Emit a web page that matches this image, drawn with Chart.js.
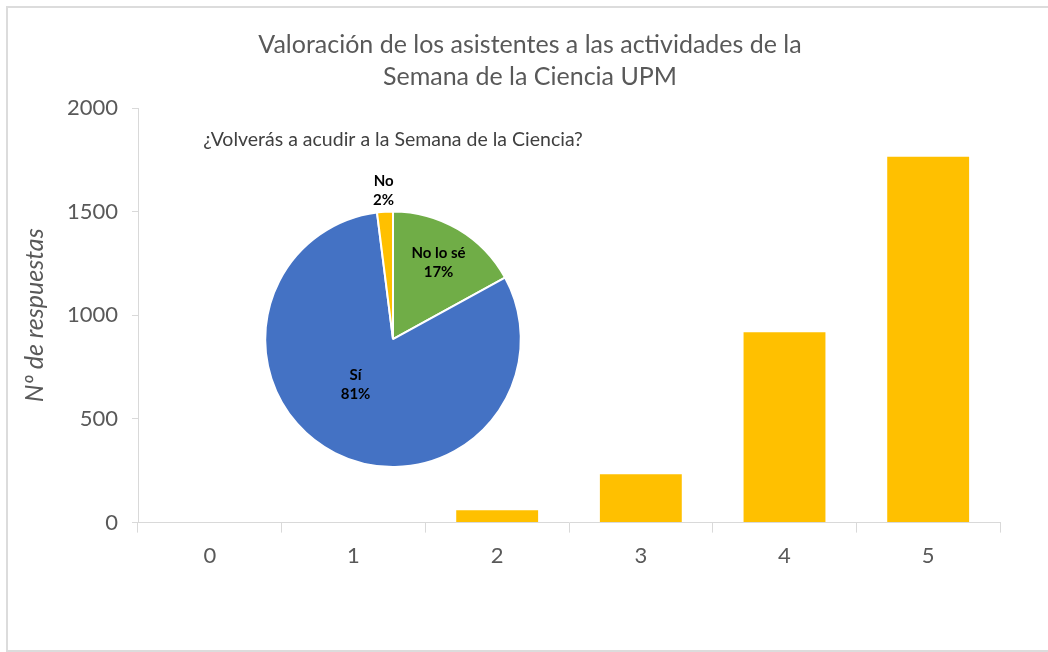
<!DOCTYPE html>
<html>
<head>
<meta charset="utf-8">
<script src="https://cdn.jsdelivr.net/npm/chart.js@4.4.1/dist/chart.umd.min.js"></script>
<style>
    html, body { margin: 0; padding: 0; background: #fff; overflow: hidden; }
    #frame { position: absolute; left: 6px; top: 6px; width: 1100px; height: 642px; border: 2px solid #dcdcdc; }
    #bars { position: absolute; left: 0; top: 0; }
    #pie { position: absolute; left: 180px; top: 128px; }
</style>
</head>
<body>
<div id="frame"></div>
<canvas id="bars" width="1060" height="652"></canvas>
<canvas id="pie" width="426" height="346"></canvas>
<script>
'use strict';

// bar data: ratings 0-5
const ratingLabels = ['0', '1', '2', '3', '4', '5'];
const ratingCounts = [0, 0, 60, 233, 918, 1765];

// pie data: ¿Volverás a acudir?
const pieLabels = ['No lo sé', 'Sí', 'No'];
const pieValues = [17, 81, 2];
const pieColors = ['#70AD47', '#4472C4', '#FFC000'];

const gray = '#595959';
const lineGray = '#d9d9d9';

// where each pie label sits: share of the radius, and a small turn (rad)
const labelRadius = [0.70, 0.46, 1.17];
const labelTurn = [0, 0.22, 0];

const pieLabelPlugin = {
    id: 'pieLabels',
    afterDatasetsDraw(chart) {
        const ctx = chart.ctx;
        const meta = chart.getDatasetMeta(0);
        const total = pieValues.reduce((a, b) => a + b, 0);
        ctx.save();
        ctx.font = 'bold 15px Lato';
        ctx.fillStyle = '#000';
        ctx.textAlign = 'center';
        ctx.textBaseline = 'middle';
        meta.data.forEach((arc, i) => {
            const p = arc.getProps(['x', 'y', 'startAngle', 'endAngle', 'outerRadius'], true);
            const mid = (p.startAngle + p.endAngle) / 2 + labelTurn[i];
            const r = p.outerRadius * labelRadius[i];
            const x = p.x + Math.cos(mid) * r;
            const y = p.y + Math.sin(mid) * r;
            ctx.fillText(pieLabels[i], x, y - 9);
            ctx.fillText(Math.round(pieValues[i] / total * 100) + '%', x, y + 10);
        });
        ctx.restore();
    }
};

const tickFont = { family: 'Lato', size: 22 };

new Chart(document.getElementById('bars'), {
    type: 'bar',
    data: {
        labels: ratingLabels,
        datasets: [{
            data: ratingCounts,
            backgroundColor: '#FFC000',
            barPercentage: 0.57,
            categoryPercentage: 1
        }]
    },
    options: {
        responsive: false,
        animation: false,
        layout: {
            padding: { left: 7, right: 7, top: 29, bottom: 73 }
        },
        plugins: {
            legend: { display: false },
            tooltip: { enabled: false },
            title: {
                display: true,
                text: ['Valoración de los asistentes a las actividades de la', 'Semana de la Ciencia UPM'],
                font: { family: 'Lato', size: 25, weight: 'normal', lineHeight: 1.28 },
                color: gray,
                padding: { top: 0, bottom: 15 }
            }
        },
        scales: {
            x: {
                grid: { drawOnChartArea: false, tickLength: 10, color: lineGray, offset: true },
                border: { color: lineGray },
                ticks: { font: tickFont, color: gray, padding: 10 }
            },
            y: {
                min: 0,
                max: 2000,
                ticks: {
                    stepSize: 500,
                    font: tickFont,
                    color: gray,
                    padding: 14,
                    callback: (value) => String(value)
                },
                grid: { drawOnChartArea: false, tickLength: 6, color: lineGray },
                border: { color: lineGray },
                title: {
                    display: true,
                    text: 'Nº de respuestas',
                    font: { family: 'Lato', size: 25, style: 'italic' },
                    color: gray,
                    padding: { top: 13, bottom: 0 }
                },
                afterFit(scale) { scale.width = 131; }
            },
            // empty right box, keeps the plot area where the original has it
            spacer: {
                axis: 'y',
                type: 'linear',
                position: 'right',
                grid: { display: false },
                border: { display: false },
                ticks: { display: false },
                afterFit(scale) { scale.width = 53; }
            }
        }
    }
});

new Chart(document.getElementById('pie'), {
    type: 'pie',
    data: {
        labels: pieLabels,
        datasets: [{
            data: pieValues,
            backgroundColor: pieColors,
            borderColor: '#fff',
            borderWidth: 2
        }]
    },
    options: {
        responsive: false,
        animation: false,
        layout: {
            padding: { left: 0, right: 0, top: 0, bottom: 6 }
        },
        plugins: {
            legend: { display: false },
            tooltip: { enabled: false },
            title: {
                display: true,
                text: '¿Volverás a acudir a la Semana de la Ciencia?',
                font: { family: 'Lato', size: 19.5, weight: 'normal' },
                color: '#404040',
                padding: { top: 0, bottom: 59 }
            }
        }
    },
    plugins: [pieLabelPlugin]
});
</script>
</body>
</html>
